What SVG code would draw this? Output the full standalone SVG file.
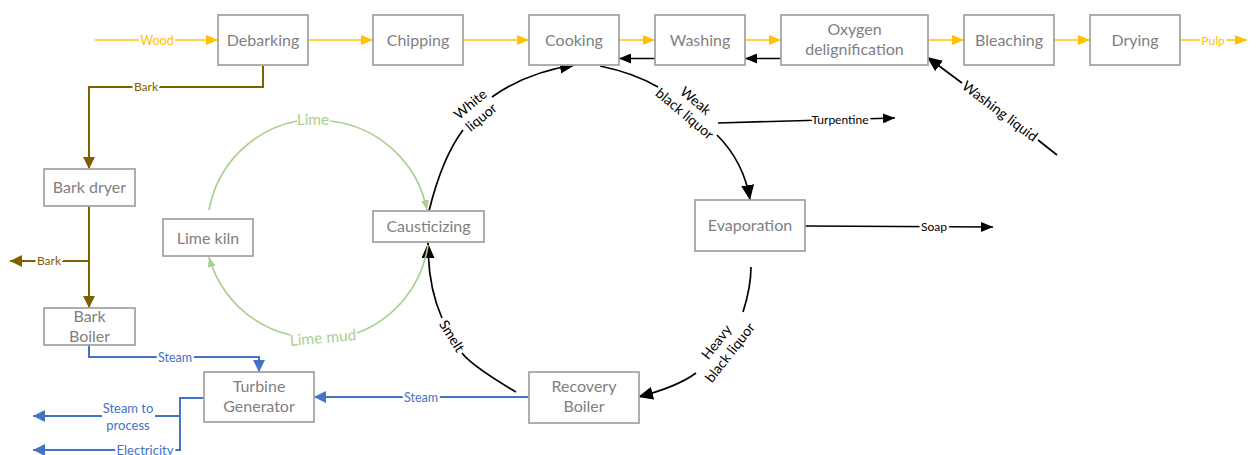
<svg xmlns="http://www.w3.org/2000/svg" width="1257" height="455" viewBox="0 0 1257 455">
<style>
.box rect{fill:#fff;stroke:#A6A6A6;stroke-width:1.8}
.box text{font-family:Lato,"Liberation Sans",sans-serif;font-size:16px;fill:#7F7F7F;text-anchor:middle}
.c{fill:none}
.or{stroke:#FFC000;stroke-width:1.6}
.br{stroke:#7F6000;stroke-width:2}
.bl{stroke:#4472C4;stroke-width:2}
.bk{stroke:#000;stroke-width:1.7}
.gr{stroke:#A9D18E;stroke-width:1.7}
.lbl{font-family:Lato,"Liberation Sans",sans-serif;text-anchor:middle}
.halo{stroke:#fff;stroke-width:5px;paint-order:stroke;stroke-linejoin:round}
</style>
<defs>
<marker id="mo" markerUnits="userSpaceOnUse" markerWidth="12" markerHeight="10" refX="12" refY="5" orient="auto"><path d="M0,0L12,5L0,10z" fill="#FFC000"/></marker>
<marker id="mbr" markerUnits="userSpaceOnUse" markerWidth="12" markerHeight="12" refX="12" refY="6" orient="auto"><path d="M0,0L12,6L0,12z" fill="#7F6000"/></marker>
<marker id="mbl" markerUnits="userSpaceOnUse" markerWidth="12" markerHeight="12" refX="12" refY="6" orient="auto"><path d="M0,0L12,6L0,12z" fill="#4472C4"/></marker>
<marker id="mk" markerUnits="userSpaceOnUse" markerWidth="12" markerHeight="10" refX="12" refY="5" orient="auto"><path d="M0,0L12,5L0,10z" fill="#000"/></marker>
<marker id="mkb" markerUnits="userSpaceOnUse" markerWidth="15" markerHeight="13" refX="15" refY="6.5" orient="auto"><path d="M0,0L15,6.5L0,13z" fill="#000"/></marker>
<marker id="mg" markerUnits="userSpaceOnUse" markerWidth="10" markerHeight="8" refX="10" refY="4" orient="auto"><path d="M0,0L10,4L0,8z" fill="#A9D18E"/></marker>
</defs>

<g id="connectors">
<!-- orange main line -->
<path class="c or" d="M95,40H218" marker-end="url(#mo)"/>
<path class="c or" d="M308,40H373" marker-end="url(#mo)"/>
<path class="c or" d="M463,40H529" marker-end="url(#mo)"/>
<path class="c or" d="M619,40H655" marker-end="url(#mo)"/>
<path class="c or" d="M745,40H781" marker-end="url(#mo)"/>
<path class="c or" d="M928,40H964" marker-end="url(#mo)"/>
<path class="c or" d="M1054,40H1090" marker-end="url(#mo)"/>
<path class="c or" d="M1180,40H1247" marker-end="url(#mo)"/>
<text class="lbl halo" x="157" y="44.5" font-size="12.5" fill="#FFC000">Wood</text>
<text class="lbl halo" x="1213" y="44.5" font-size="12" fill="#FFC000">Pulp</text>
<!-- black back arrows -->
<path class="c bk" d="M655,58.5H619" marker-end="url(#mk)"/>
<path class="c bk" d="M781,58.5H745" marker-end="url(#mk)"/>
<!-- bark -->
<path class="c br" d="M263,66V87H89V169" marker-end="url(#mbr)"/>
<path class="c br" d="M89,206V308" marker-end="url(#mbr)"/>
<path class="c br" d="M89,261H10" marker-end="url(#mbr)"/>
<text class="lbl halo" x="146" y="91" font-size="12" fill="#7F6000">Bark</text>
<text class="lbl halo" x="49" y="265" font-size="12" fill="#7F6000">Bark</text>
<!-- steam -->
<path class="c bl" d="M89,345V357H259V372" marker-end="url(#mbl)"/>
<text class="lbl halo" x="175" y="361.5" font-size="12.5" fill="#4472C4">Steam</text>
<path class="c bl" d="M529,397H314" marker-end="url(#mbl)"/>
<text class="lbl halo" x="421" y="401.5" font-size="12.5" fill="#4472C4">Steam</text>
<path class="c bl" d="M204,398H180V450H33" marker-end="url(#mbl)"/>
<path class="c bl" d="M180,416H155"/>
<path class="c bl" d="M102,416H33" marker-end="url(#mbl)"/>
<text class="lbl" x="128" y="412.5" font-size="13" fill="#4472C4">Steam to</text>
<text class="lbl" x="128" y="430" font-size="13" fill="#4472C4">process</text>
<text class="lbl halo" x="145" y="454.5" font-size="13" fill="#4472C4">Electricity</text>
<!-- black recovery loop -->
<path class="c bk" d="M429,211Q442,158 463,130"/>
<path class="c bk" d="M492,97Q527,72 575,65" marker-end="url(#mkb)"/>
<path class="c bk" d="M600,66Q634,73 658,87"/>
<path class="c bk" d="M717,135Q744,162 750,200" marker-end="url(#mkb)"/>
<path class="c bk" d="M751,267Q751,287 743,312"/>
<path class="c bk" d="M696,373Q677,387 638,397" marker-end="url(#mkb)"/>
<path class="c bk" d="M516,392Q472,366 462,353"/>
<path class="c bk" d="M442,318Q428,287 428,243" marker-end="url(#mkb)"/>
<g class="lbl" font-size="14" fill="#000">
<g transform="translate(476,111) rotate(-40)"><text x="0" y="-4">White</text><text x="0" y="13">liquor</text></g>
<g transform="translate(690,107.5) rotate(40)"><text x="0" y="-4">Weak</text><text x="0" y="13">black liquor</text></g>
<g transform="translate(723.5,347.5) rotate(-52)"><text x="0" y="-4">Heavy</text><text x="0" y="13">black liquor</text></g>
<g transform="translate(452,336) rotate(58)"><text x="0" y="5">Smelt</text></g>
<g transform="translate(1000,111) rotate(37)"><text x="0" y="5">Washing liquid</text></g>
</g>
<!-- side products -->
<path class="c bk" d="M718,123L895,118" marker-end="url(#mk)"/>
<text class="lbl halo" x="840" y="124" font-size="12" fill="#000">Turpentine</text>
<path class="c bk" d="M805,226L993,227" marker-end="url(#mk)"/>
<text class="lbl halo" x="934" y="230.5" font-size="12" fill="#000">Soap</text>
<path class="c bk" d="M1057,155L1038,140"/>
<path class="c bk" d="M962,83L927,57" marker-end="url(#mkb)"/>
<!-- lime cycle -->
<path class="c gr" d="M209,210A111,111 0 0,1 297,121"/>
<path class="c gr" d="M330,121A111,111 0 0,1 427,210" marker-end="url(#mg)"/>
<path class="c gr" d="M428,245A111,111 0 0,1 357,333"/>
<path class="c gr" d="M290,335A111,111 0 0,1 209,257" marker-end="url(#mg)"/>
<text class="lbl" x="313" y="125" font-size="15.5" fill="#A9D18E">Lime</text>
<text class="lbl" x="323" y="343" font-size="15.5" fill="#A9D18E" transform="rotate(-5 323 338)">Lime mud</text>
</g>

<g id="debarking" class="box"><rect x="218" y="15" width="90" height="50"/><text x="263" y="45.5">Debarking</text></g>
<g id="chipping" class="box"><rect x="373" y="15" width="90" height="50"/><text x="418" y="45.5">Chipping</text></g>
<g id="cooking" class="box"><rect x="529" y="15" width="90" height="50"/><text x="574" y="45.5">Cooking</text></g>
<g id="washing" class="box"><rect x="655" y="15" width="90" height="50"/><text x="700" y="45.5">Washing</text></g>
<g id="oxygen" class="box"><rect x="781" y="15" width="147" height="50"/><text x="854.5" y="35">Oxygen</text><text x="854.5" y="55">delignification</text></g>
<g id="bleaching" class="box"><rect x="964" y="15" width="90" height="50"/><text x="1009" y="45.5">Bleaching</text></g>
<g id="drying" class="box"><rect x="1090" y="15" width="90" height="50"/><text x="1135" y="45.5">Drying</text></g>
<g id="barkdryer" class="box"><rect x="44" y="169" width="91" height="37"/><text x="89.5" y="193">Bark dryer</text></g>
<g id="barkboiler" class="box"><rect x="44" y="308" width="91" height="37"/><text x="89.5" y="322">Bark</text><text x="89.5" y="342">Boiler</text></g>
<g id="limekiln" class="box"><rect x="163" y="219" width="90" height="37"/><text x="208" y="243.5">Lime kiln</text></g>
<g id="causticizing" class="box"><rect x="373" y="211" width="111" height="31"/><text x="428.5" y="231.5">Causticizing</text></g>
<g id="evaporation" class="box"><rect x="695" y="200" width="110" height="51"/><text x="750" y="231">Evaporation</text></g>
<g id="recovery" class="box"><rect x="529" y="372" width="110" height="51"/><text x="584" y="392">Recovery</text><text x="584" y="412">Boiler</text></g>
<g id="turbine" class="box"><rect x="204" y="372" width="110" height="50"/><text x="259" y="392">Turbine</text><text x="259" y="412">Generator</text></g>
</svg>
